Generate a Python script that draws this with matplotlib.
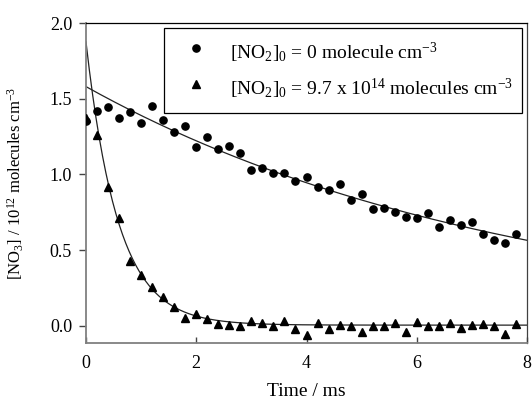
import numpy as np
import matplotlib
matplotlib.use('Agg')
import matplotlib.pyplot as plt

# time points (ms), one every 0.2 ms
t = np.round(np.arange(0, 8.0, 0.2), 1)

# [NO3] / 1e12 molecules cm-3, no NO2 added
no3_zero = [1.35, 1.42, 1.445, 1.37, 1.41, 1.34, 1.45, 1.36, 1.28, 1.32,
            1.18, 1.25, 1.17, 1.19, 1.14, 1.03, 1.04, 1.01, 1.01, 0.96,
            0.985, 0.92, 0.90, 0.935, 0.83, 0.87, 0.77, 0.78, 0.755, 0.72,
            0.715, 0.745, 0.65, 0.70, 0.665, 0.685, 0.61, 0.565, 0.55, 0.61]

# [NO3] / 1e12 molecules cm-3, with [NO2]0 = 9.7e14
no3_no2 = [1.37, 1.26, 0.92, 0.71, 0.43, 0.333, 0.254, 0.19, 0.128, 0.05,
           0.08, 0.044, 0.01, 0.007, 0.0, 0.035, 0.018, 0.0, 0.031, -0.018,
           -0.062, 0.022, -0.018, 0.007, 0.0, -0.04, -0.004, -0.004, 0.022, -0.042,
           0.024, 0.0, -0.004, 0.022, -0.013, 0.007, 0.013, 0.0, -0.053, 0.013]

# exponential fit parameters (A, k in ms-1, offset)
fit_zero = (1.58, 0.1285, 0.0)
fit_no2 = (1.87, 1.72, 0.005)

labels = [r'[NO$_2$]$_0$ = 0 molecule cm$^{-3}$',
          r'[NO$_2$]$_0$ = 9.7 x 10$^{14}$ molecules cm$^{-3}$']

plt.rcParams['font.family'] = ['Liberation Serif', 'DejaVu Serif']
plt.rcParams['mathtext.default'] = 'regular'

fig = plt.figure(figsize=(5.32, 4.05), dpi=100)
ax = fig.add_axes([86 / 532, 1 - 343 / 405, 441 / 532, 320 / 405])

tf = np.linspace(0, 8, 400)
for (a, k, c) in (fit_zero, fit_no2):
    ax.plot(tf, a * np.exp(-k * tf) + c, color='#222222', lw=0.9, zorder=2)

ax.plot(t, no3_zero, 'o', color='black', ms=5.2, ls='none', label=labels[0], zorder=3)
ax.plot(t, no3_no2, '^', color='black', ms=6.3, ls='none', label=labels[1], zorder=3)

ax.set_xlim(0, 8)
ax.set_ylim(-0.113, 2.0)
ax.set_xticks([0, 2, 4, 6, 8])
ax.set_yticks([0.0, 0.5, 1.0, 1.5, 2.0])
ax.set_yticklabels(['0.0', '0.5', '1.0', '1.5', '2.0'])

ax.tick_params(axis='x', direction='in', length=4, width=1, color='#444444',
               labelsize=13, pad=9)
ax.tick_params(axis='y', direction='out', length=5, width=1, color='#444444',
               labelsize=13, pad=5)

for side in ('left', 'bottom'):
    ax.spines[side].set_color('#808080')
    ax.spines[side].set_linewidth(1.3)
ax.spines['top'].set_color('black')
ax.spines['top'].set_linewidth(0.9)
ax.spines['right'].set_color('#404040')
ax.spines['right'].set_linewidth(0.9)

ax.set_xlabel('Time / ms', fontsize=14)
ax.xaxis.set_label_coords(0.5, -0.125)
ax.set_ylabel(r'[NO$_3$] / 10$^{12}$ molecules cm$^{-3}$', fontsize=12)
ax.yaxis.set_label_coords(-0.135, 0.5)

leg = ax.legend(loc='upper right', bbox_to_anchor=(0.9887, 0.984),
                fontsize=14, frameon=True, fancybox=False, framealpha=1,
                edgecolor='black', borderpad=0.45, labelspacing=0.25,
                handlelength=2.4, handleheight=2.1, handletextpad=0.54,
                borderaxespad=0)
leg.get_frame().set_linewidth(0.9)

fig.savefig('out.png', dpi=100)
